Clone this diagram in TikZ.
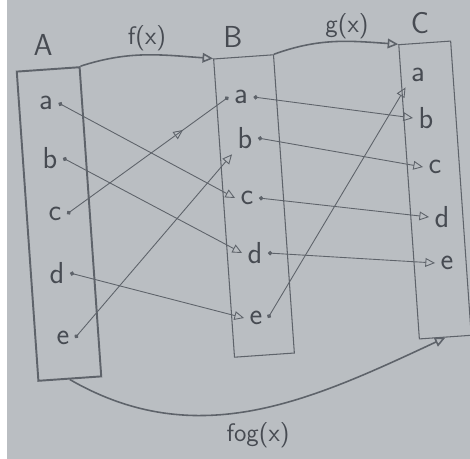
\documentclass[tikz,border=0pt]{standalone}
\usepackage{tikz}
\usetikzlibrary{positioning, arrows.meta, decorations.markings}
\definecolor{cPaper}{HTML}{BABEC2}
\definecolor{cPencil}{HTML}{474B52}
\definecolor{cLead}{HTML}{5E636A}

\begin{document}
\begin{tikzpicture}[
  x=0.02cm, y=0.02cm,
  setbox/.style={
    draw=cLead, line width=#1, rotate=4, inner sep=0pt
  },
  setname/.style={
    font=\LARGE\sffamily, text=cPencil
  },
  elem/.style={
    font=\LARGE\sffamily, text=cPencil, inner sep=3pt
  },
  funlabel/.style={
    font=\Large\sffamily, text=cPencil
  },
  maparrow/.style={
    draw=cLead, line width=0.5pt,
    {Circle[length=2.5pt]}-{Triangle[open, length=5.5pt, width=5pt]}
  },
  midarrow/.style={
    draw=cLead, line width=0.5pt,
    {Circle[length=2.5pt]}-{Circle[length=2.5pt]},
    postaction={decorate},
    decoration={markings, mark=at position 0.72 with
      {\arrow{Triangle[open, length=5.5pt, width=5pt]}}}
  },
  funarrow/.style={
    draw=cLead, line width=0.9pt,
    -{Triangle[open, length=6pt, width=5.5pt]}
  },
]

% paper
\fill[white] (0,0) rectangle (470,-459);
\fill[cPaper] (7,0) rectangle (470,-459);
\useasboundingbox (0,0) rectangle (470,-459);

% sets
\node[setbox=1.1pt, minimum width=1.26cm, minimum height=6.2cm] (boxA) at (59,-224) {};
\node[setbox=0.6pt, minimum width=1.2cm, minimum height=5.98cm] (boxB) at (254,-206) {};
\node[setbox=0.6pt, minimum width=1.04cm, minimum height=5.9cm] (boxC) at (435,-190) {};

\node[setname] (nameA) at (43,-45) {A};
\node[setname] (nameB) at (233,-37) {B};
\node[setname] (nameC) at (420,-23) {C};

% elements of A
\node[elem] (Aa) at (46,-103) {a};
\node[elem] (Ab) at (50,-158) {b};
\node[elem] (Ac) at (55,-214) {c};
\node[elem] (Ad) at (57,-273) {d};
\node[elem] (Ae) at (63,-338) {e};

% elements of B
\node[elem] (Ba) at (241,-97) {a};
\node[elem] (Bb) at (245,-138) {b};
\node[elem] (Bc) at (247,-198) {c};
\node[elem] (Bd) at (255,-253) {d};
\node[elem] (Be) at (256,-318) {e};

% elements of C
\node[elem] (Ca) at (418,-75) {a};
\node[elem] (Cb) at (426,-118) {b};
\node[elem] (Cc) at (435,-167) {c};
\node[elem] (Cd) at (442,-217) {d};
\node[elem] (Ce) at (447,-263) {e};

% f : A -> B
\draw[maparrow] (Aa.east) -- (Bc.west);
\draw[maparrow] (Ab.east) -- (Bd.west);
\draw[midarrow] (Ac.east) -- (Ba.west);
\draw[maparrow] (Ad.east) -- (Be.west);
\draw[maparrow] (Ae.east) -- (Bb.south west);

% g : B -> C
\draw[maparrow] (Ba.east) -- (Cb.west);
\draw[maparrow] (Bb.east) -- (Cc.west);
\draw[maparrow] (Bc.east) -- (Cd.west);
\draw[maparrow] (Bd.east) -- (Ce.west);
\draw[maparrow] (Be.east) -- (Ca.south west);

% functions
\draw[funarrow] (boxA.north east) to[out=18, in=176] (boxB.north west);
\draw[funarrow] (boxB.north east) to[out=20, in=176] (boxC.north west);
\draw[funarrow] (boxA.south) to[out=-30, in=205] (boxC.south);

\node[funlabel] (lblf) at (147,-38) {f(x)};
\node[funlabel] (lblg) at (347,-26) {g(x)};
\node[funlabel] (lblfog) at (258,-435) {fog(x)};

\end{tikzpicture}
\end{document}
